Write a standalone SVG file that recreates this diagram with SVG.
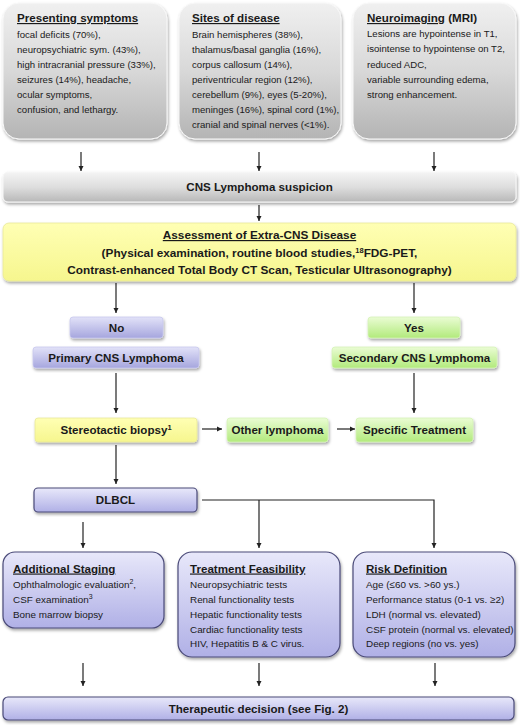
<svg xmlns="http://www.w3.org/2000/svg" width="520" height="725" viewBox="0 0 520 725">
<defs>
<linearGradient id="gGray" x1="0" y1="0" x2="0" y2="1">
<stop offset="0" stop-color="#f0f0f0"/><stop offset="0.5" stop-color="#d8d8d8"/><stop offset="1" stop-color="#b4b4b4"/>
</linearGradient>
<linearGradient id="gBar" x1="0" y1="0" x2="0" y2="1">
<stop offset="0" stop-color="#f4f4f4"/><stop offset="0.5" stop-color="#dedede"/><stop offset="1" stop-color="#b8b8b8"/>
</linearGradient>
<linearGradient id="gPur" x1="0" y1="0" x2="0" y2="1">
<stop offset="0" stop-color="#e2e2f8"/><stop offset="1" stop-color="#a6a6de"/>
</linearGradient>
<linearGradient id="gPurBig" x1="0" y1="0" x2="0" y2="1">
<stop offset="0" stop-color="#e8e8fa"/><stop offset="1" stop-color="#b0b0e6"/>
</linearGradient>
<linearGradient id="gGrn" x1="0" y1="0" x2="0" y2="1">
<stop offset="0" stop-color="#eafcd4"/><stop offset="1" stop-color="#b2ea7c"/>
</linearGradient>
<linearGradient id="gYel" x1="0" y1="0" x2="0" y2="1">
<stop offset="0" stop-color="#ffffb4"/><stop offset="1" stop-color="#f6f68e"/>
</linearGradient>
<filter id="sh" x="-5%" y="-10%" width="110%" height="130%">
<feDropShadow dx="1" dy="2" stdDeviation="1.5" flood-color="#000" flood-opacity="0.35"/>
</filter>
<marker id="ah" markerWidth="6" markerHeight="6" refX="5" refY="3" orient="auto" markerUnits="userSpaceOnUse">
<path d="M0,0.5 L5,3 L0,5.5 Z" fill="#222"/>
</marker>
<style>
text{font-family:"Liberation Sans",Arial,sans-serif;fill:#1a1a1a}
.t{font-size:11.6px;font-weight:bold;text-decoration:underline}
.tn{font-size:11.6px;font-weight:bold}
.s{font-size:9.6px}
.b{font-size:11.6px;font-weight:bold;text-anchor:middle}
.bl{font-size:11.8px;font-weight:bold;text-anchor:middle}
.l{font-size:9.9px}
.ln{stroke:#222;stroke-width:1.2;fill:none}
.gray{fill:url(#gGray);stroke:#f8f8f8;stroke-width:1;filter:url(#sh)}
.pur{fill:url(#gPur);stroke:#c8c8ee;stroke-width:0.8;filter:url(#sh)}
.grn{fill:url(#gGrn);stroke:#d6f2b8;stroke-width:0.8;filter:url(#sh)}
.yel{fill:url(#gYel);stroke:#e8e89a;stroke-width:0.8;filter:url(#sh)}
.big{fill:url(#gPurBig);stroke:#4a4a78;stroke-width:1.2;filter:url(#sh)}
</style>
</defs>
<rect width="520" height="725" fill="#fff"/>

<g id="connectors">
<line class="ln" x1="81" y1="152" x2="81" y2="171" marker-end="url(#ah)"/>
<line class="ln" x1="259" y1="152" x2="259" y2="171" marker-end="url(#ah)"/>
<line class="ln" x1="434" y1="152" x2="434" y2="171" marker-end="url(#ah)"/>
<line class="ln" x1="259" y1="205" x2="259" y2="221" marker-end="url(#ah)"/>
<line class="ln" x1="116" y1="283" x2="116" y2="313" marker-end="url(#ah)"/>
<line class="ln" x1="414" y1="283" x2="414" y2="313" marker-end="url(#ah)"/>
<line class="ln" x1="116" y1="373" x2="116" y2="413" marker-end="url(#ah)"/>
<line class="ln" x1="414" y1="373" x2="414" y2="413" marker-end="url(#ah)"/>
<line class="ln" x1="202" y1="429" x2="222" y2="429" marker-end="url(#ah)"/>
<line class="ln" x1="337" y1="429" x2="355" y2="429" marker-end="url(#ah)"/>
<line class="ln" x1="116" y1="445" x2="116" y2="484" marker-end="url(#ah)"/>
<polyline class="ln" points="202,500 434,500 434,548" marker-end="url(#ah)"/>
<line class="ln" x1="259" y1="500" x2="259" y2="548" marker-end="url(#ah)"/>
<line class="ln" x1="83" y1="522" x2="83" y2="548" marker-end="url(#ah)"/>
<line class="ln" x1="83" y1="663" x2="83" y2="686" marker-end="url(#ah)"/>
<line class="ln" x1="259" y1="663" x2="259" y2="686" marker-end="url(#ah)"/>
<line class="ln" x1="435" y1="663" x2="435" y2="686" marker-end="url(#ah)"/>
</g>

<g id="presenting">
<rect class="gray" x="3" y="3" width="164" height="136" rx="16"/>
<text class="t" x="17" y="22">Presenting symptoms</text>
<text class="s" x="17" y="37.5">focal deficits (70%),</text>
<text class="s" x="17" y="52.5">neuropsychiatric sym. (43%),</text>
<text class="s" x="17" y="67.5">high intracranial pressure (33%),</text>
<text class="s" x="17" y="82.5">seizures (14%), headache,</text>
<text class="s" x="17" y="97.5">ocular symptoms,</text>
<text class="s" x="17" y="112.5">confusion, and lethargy.</text>
</g>

<g id="sites">
<rect class="gray" x="179" y="3" width="162" height="136" rx="16"/>
<text class="t" x="192" y="22">Sites of disease</text>
<text class="s" x="192" y="38">Brain hemispheres (38%),</text>
<text class="s" x="192" y="53">thalamus/basal ganglia (16%),</text>
<text class="s" x="192" y="68">corpus callosum (14%),</text>
<text class="s" x="192" y="83">periventricular region (12%),</text>
<text class="s" x="192" y="98">cerebellum (9%), eyes (5-20%),</text>
<text class="s" x="192" y="113">meninges (16%), spinal cord (1%),</text>
<text class="s" x="192" y="128">cranial and spinal nerves (&lt;1%).</text>
</g>

<g id="neuro">
<rect class="gray" x="353" y="3" width="163" height="136" rx="16"/>
<text class="tn" x="367" y="22"><tspan text-decoration="underline">Neuroimaging</tspan> (MRI)</text>
<text class="s" x="367" y="37">Lesions are hypointense in T1,</text>
<text class="s" x="367" y="52">isointense to hypointense on T2,</text>
<text class="s" x="367" y="67.5">reduced ADC,</text>
<text class="s" x="367" y="82.5">variable surrounding edema,</text>
<text class="s" x="367" y="97.5">strong enhancement.</text>
</g>

<g id="suspicion">
<rect x="3" y="172" width="513" height="30" rx="5" fill="url(#gBar)" stroke="#f8f8f8" filter="url(#sh)"/>
<text class="b" x="259.5" y="191">CNS Lymphoma suspicion</text>
</g>

<g id="assessment">
<rect class="yel" x="3" y="223" width="513" height="58" rx="6"/>
<text class="bl" x="259.5" y="239" text-decoration="underline">Assessment of Extra-CNS Disease</text>
<text class="bl" x="259.5" y="257">(Physical examination, routine blood studies,<tspan font-size="7.5" dy="-4">18</tspan><tspan dy="4">FDG-PET,</tspan></text>
<text class="bl" x="259.5" y="274">Contrast-enhanced Total Body CT Scan, Testicular Ultrasonography)</text>
</g>

<g id="no">
<rect class="pur" x="70" y="317" width="93" height="21" rx="3"/>
<text class="b" x="116.5" y="331.5">No</text>
</g>
<g id="yes">
<rect class="grn" x="368" y="317" width="92" height="21" rx="3"/>
<text class="b" x="414" y="331.5">Yes</text>
</g>
<g id="primary">
<rect class="pur" x="33" y="347" width="166" height="21" rx="3"/>
<text class="b" x="116" y="361.5">Primary CNS Lymphoma</text>
</g>
<g id="secondary">
<rect class="grn" x="332" y="347" width="165" height="21" rx="3"/>
<text class="b" x="414.5" y="361.5">Secondary CNS Lymphoma</text>
</g>
<g id="biopsy">
<rect class="yel" x="35" y="418" width="162" height="24" rx="3"/>
<text class="b" x="116" y="434">Stereotactic biopsy<tspan font-size="7.5" dy="-4">1</tspan></text>
</g>
<g id="other">
<rect class="grn" x="227" y="418" width="101" height="24" rx="3"/>
<text class="b" x="277.5" y="434">Other lymphoma</text>
</g>
<g id="specific">
<rect class="grn" x="356" y="418" width="117" height="24" rx="3"/>
<text class="b" x="414.5" y="434">Specific Treatment</text>
</g>
<g id="dlbcl">
<rect class="big" x="34" y="488" width="163" height="24" rx="4"/>
<text class="b" x="115.5" y="504">DLBCL</text>
</g>

<g id="staging">
<rect class="big" x="3" y="552" width="161" height="76" rx="12"/>
<text class="t" x="13" y="572.5">Additional Staging</text>
<text class="l" x="13" y="588">Ophthalmologic evaluation<tspan font-size="7" dy="-4">2</tspan><tspan dy="4">,</tspan></text>
<text class="l" x="13" y="603">CSF examination<tspan font-size="7" dy="-4">3</tspan></text>
<text class="l" x="13" y="617.5">Bone marrow biopsy</text>
</g>

<g id="feasibility">
<rect class="big" x="178" y="552" width="162" height="105" rx="14"/>
<text class="t" x="190" y="572.5">Treatment Feasibility</text>
<text class="l" x="190" y="587.5">Neuropsychiatric tests</text>
<text class="l" x="190" y="602.5">Renal functionality tests</text>
<text class="l" x="190" y="617.5">Hepatic functionality tests</text>
<text class="l" x="190" y="632.5">Cardiac functionality tests</text>
<text class="l" x="190" y="647">HIV, Hepatitis B &amp; C virus.</text>
</g>

<g id="risk">
<rect class="big" x="353" y="552" width="162" height="105" rx="14"/>
<text class="t" x="366" y="572.5">Risk Definition</text>
<text class="l" x="366" y="587.5">Age (≤60 vs. &gt;60 ys.)</text>
<text class="l" x="366" y="602.5">Performance status (0-1 vs. ≥2)</text>
<text class="l" x="366" y="617.5">LDH (normal vs. elevated)</text>
<text class="l" x="366" y="632.5">CSF protein (normal vs. elevated)</text>
<text class="l" x="366" y="647">Deep regions (no vs. yes)</text>
</g>

<g id="therapeutic">
<rect class="big" x="3" y="697" width="511" height="23" rx="5"/>
<text class="b" x="258.5" y="712.5">Therapeutic decision (see Fig. 2)</text>
</g>
</svg>
